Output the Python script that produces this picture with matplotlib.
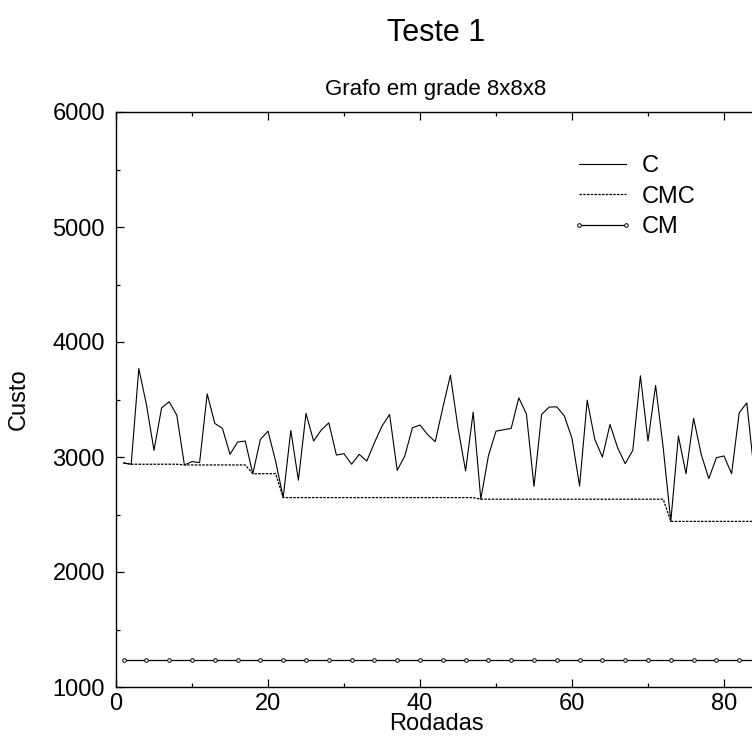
import matplotlib
matplotlib.use("Agg")
import matplotlib.pyplot as plt
from matplotlib.ticker import MultipleLocator

plt.rcParams['font.family'] = ['Liberation Sans', 'DejaVu Sans']

rodadas = list(range(1, 85))
C = [2948, 2937, 3769, 3457, 3058, 3428, 3480, 3364, 2931, 2960,
     2951, 3549, 3292, 3250, 3023, 3130, 3139, 2855, 3153, 3225,
     2965, 2647, 3231, 2798, 3379, 3139, 3234, 3297, 3017, 3029,
     2937, 3023, 2965, 3124, 3269, 3370, 2884, 3009, 3254, 3278,
     3195, 3133, 3428, 3711, 3254, 2879, 3390, 2633, 3009, 3225,
     3237, 3249, 3514, 3375, 2744, 3370, 3434, 3436, 3356, 3162,
     2748, 3494, 3153, 3000, 3283, 3081, 2942, 3058, 3706, 3139,
     3622, 3081, 2440, 3182, 2855, 3336, 3023, 2812, 2994, 3009,
     2855, 3384, 3471, 2850]
CMC = [2948, 2937, 2937, 2937, 2937, 2937, 2937, 2937, 2931, 2931,
       2931, 2931, 2931, 2931, 2931, 2931, 2931, 2855, 2855, 2855,
       2855, 2647, 2647, 2647, 2647, 2647, 2647, 2647, 2647, 2647,
       2647, 2647, 2647, 2647, 2647, 2647, 2647, 2647, 2647, 2647,
       2647, 2647, 2647, 2647, 2647, 2647, 2647, 2633, 2633, 2633,
       2633, 2633, 2633, 2633, 2633, 2633, 2633, 2633, 2633, 2633,
       2633, 2633, 2633, 2633, 2633, 2633, 2633, 2633, 2633, 2633,
       2633, 2633, 2440, 2440, 2440, 2440, 2440, 2440, 2440, 2440,
       2440, 2440, 2440, 2440]
CM = [1235] * len(rodadas)

W, H = 752, 749
fig = plt.figure(figsize=(W / 100, H / 100), dpi=100)
left, right, top, bottom = 116, 756, 112, 687
ax = fig.add_axes([left / W, (H - bottom) / H, (right - left) / W, (bottom - top) / H])

ax.plot(rodadas, C, color='black', lw=0.8, label='C')
ax.plot(rodadas, CMC, color='black', lw=0.9, linestyle=(0, (2.0, 1.0)), label='CMC')
ax.plot(rodadas, CM, color='black', lw=0.9, marker='o', markersize=2.6,
        markerfacecolor='white', markeredgecolor='black', markeredgewidth=0.7,
        markevery=3, label='CM')

ax.set_xlim(0, (right - left) / 7.6)
ax.set_ylim(1000, 6000)
ax.xaxis.set_major_locator(MultipleLocator(20))
ax.xaxis.set_minor_locator(MultipleLocator(10))
ax.yaxis.set_major_locator(MultipleLocator(1000))
ax.yaxis.set_minor_locator(MultipleLocator(500))
ax.tick_params(which='both', direction='in', top=True, right=False,
               labelsize=17, width=0.9, colors='black')
ax.tick_params(which='major', length=6)
ax.tick_params(which='minor', length=3)
ax.tick_params(axis='x', pad=4)
ax.tick_params(axis='y', pad=8)
for s in ['left', 'bottom', 'top']:
    ax.spines[s].set_linewidth(1.0)
ax.spines['right'].set_visible(False)

ax.set_xlabel('Rodadas', fontsize=17, labelpad=-1)
ax.set_ylabel('Custo', fontsize=17, labelpad=16)
ax.set_title('Grafo em grade 8x8x8', fontsize=16, pad=12)
fig.text((left + right) / 2 / W, 1 - 33 / H, 'Teste 1', fontsize=22,
         ha='center', va='center')

leg = ax.legend(loc='upper left', bbox_to_anchor=(572 / W, 1 - 155 / H),
                bbox_transform=fig.transFigure, frameon=False, fontsize=17,
                handlelength=2.6, handletextpad=0.35, labelspacing=0.37,
                numpoints=2, borderaxespad=0, borderpad=0)

fig.savefig('out.png', dpi=100)
